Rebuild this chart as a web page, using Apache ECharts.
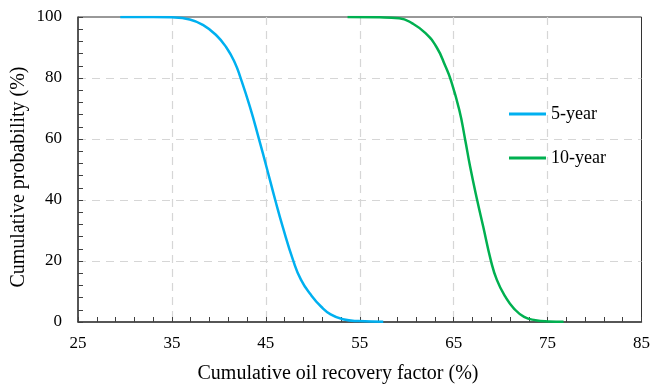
<!DOCTYPE html>
<html><head><meta charset="utf-8">
<script src="https://cdn.jsdelivr.net/npm/echarts@6/dist/echarts.min.js"></script>
<style>html,body{margin:0;padding:0;background:#fff}#c{width:653px;height:385px}</style>
</head><body><div id="c"></div>
<script>
const seriesNames = ['5-year', '10-year'];
const fiveYearX = [29.5, 33, 35, 36.9, 38.3, 39.7, 40.8, 41.7, 42.3, 43.3, 44.25, 45.1, 46.0, 46.8, 47.9, 48.75, 49.8, 50.9, 51.9, 53.2, 54.9, 57.5];
const fiveYearY = [100, 100, 99.9, 99.2, 97.4, 94.1, 90.0, 85.0, 80.1, 70.6, 60.2, 50.5, 40, 31.2, 20.3, 13.8, 8.9, 5.0, 2.5, 0.9, 0.3, 0.1];
const tenYearX = [53.7, 57.1, 59.2, 60.6, 62.0, 63.2, 64.1, 64.7, 65.6, 66.2, 66.75, 67.5, 68.15, 68.95, 69.6, 70.5, 71.4, 72.5, 73.7, 75.1, 76.7];
const tenYearY = [100, 99.9, 99.6, 97.9, 94.7, 90.0, 84.0, 79.3, 69.5, 60.2, 51.0, 40, 31.2, 20.3, 13.8, 8.3, 4.5, 1.7, 0.6, 0.2, 0.1];
const xTicks = [25, 35, 45, 55, 65, 75, 85];
const yTicks = [0, 20, 40, 60, 80, 100];
const xTitle = 'Cumulative oil recovery factor (%)';
const yTitle = 'Cumulative probability (%)';

const zip = (a, b) => a.map((v, i) => [v, b[i]]);
const font = '"Liberation Serif", "Times New Roman", serif';
const split = {show: true, showMinLine: false, showMaxLine: false, lineStyle: {color: '#d6d6d6', type: [8, 6], width: 1.2}};
const chart = echarts.init(document.getElementById('c'), null, {renderer: 'canvas'});
chart.setOption({
  animation: false,
  backgroundColor: '#fff',
  grid: {left: 78, right: 10, top: 17, bottom: 63, show: true, borderColor: '#333', borderWidth: 1, backgroundColor: 'transparent'},
  legend: {
    orient: 'vertical', left: 509, top: 105, itemGap: 26, padding: 0,
    itemWidth: 37, itemHeight: 3, icon: 'rect',
    textStyle: {fontFamily: font, fontSize: 18, color: '#000', lineHeight: 18},
    data: seriesNames
  },
  xAxis: {
    type: 'value', min: xTicks[0], max: xTicks[xTicks.length - 1], interval: 10,
    axisLine: {lineStyle: {color: '#404040', width: 1.5}},
    axisTick: {inside: true, length: 5, lineStyle: {color: '#404040'}},
    minorTick: {show: true, splitNumber: 5, length: 5, lineStyle: {color: '#404040'}},
    splitLine: split,
    axisLabel: {fontFamily: font, fontSize: 17, color: '#000', margin: 13}
  },
  yAxis: {
    type: 'value', min: yTicks[0], max: yTicks[yTicks.length - 1], interval: 20,
    axisLine: {show: true, lineStyle: {color: '#404040', width: 1.5}},
    axisTick: {show: true, inside: true, length: 5, lineStyle: {color: '#404040'}},
    minorTick: {show: true, splitNumber: 5, length: 5, lineStyle: {color: '#404040'}},
    splitLine: split,
    axisLabel: {fontFamily: font, fontSize: 17, color: '#000', margin: 16}
  },
  graphic: [
    {type: 'text', x: 338, y: 374, style: {text: xTitle, font: '20px ' + font, fill: '#000', textAlign: 'center', textVerticalAlign: 'middle'}},
    {type: 'text', x: 19, y: 177, rotation: Math.PI / 2, style: {text: yTitle, font: '20px ' + font, fill: '#000', textAlign: 'center', textVerticalAlign: 'middle'}}
  ],
  series: [
    {name: seriesNames[0], type: 'line', data: zip(fiveYearX, fiveYearY), smooth: 0.5, showSymbol: false, lineStyle: {color: '#00B0F0', width: 2.5}, itemStyle: {color: '#00B0F0'}},
    {name: seriesNames[1], type: 'line', data: zip(tenYearX, tenYearY), smooth: 0.5, showSymbol: false, lineStyle: {color: '#00B050', width: 2.5}, itemStyle: {color: '#00B050'}}
  ]
});
</script></body></html>
